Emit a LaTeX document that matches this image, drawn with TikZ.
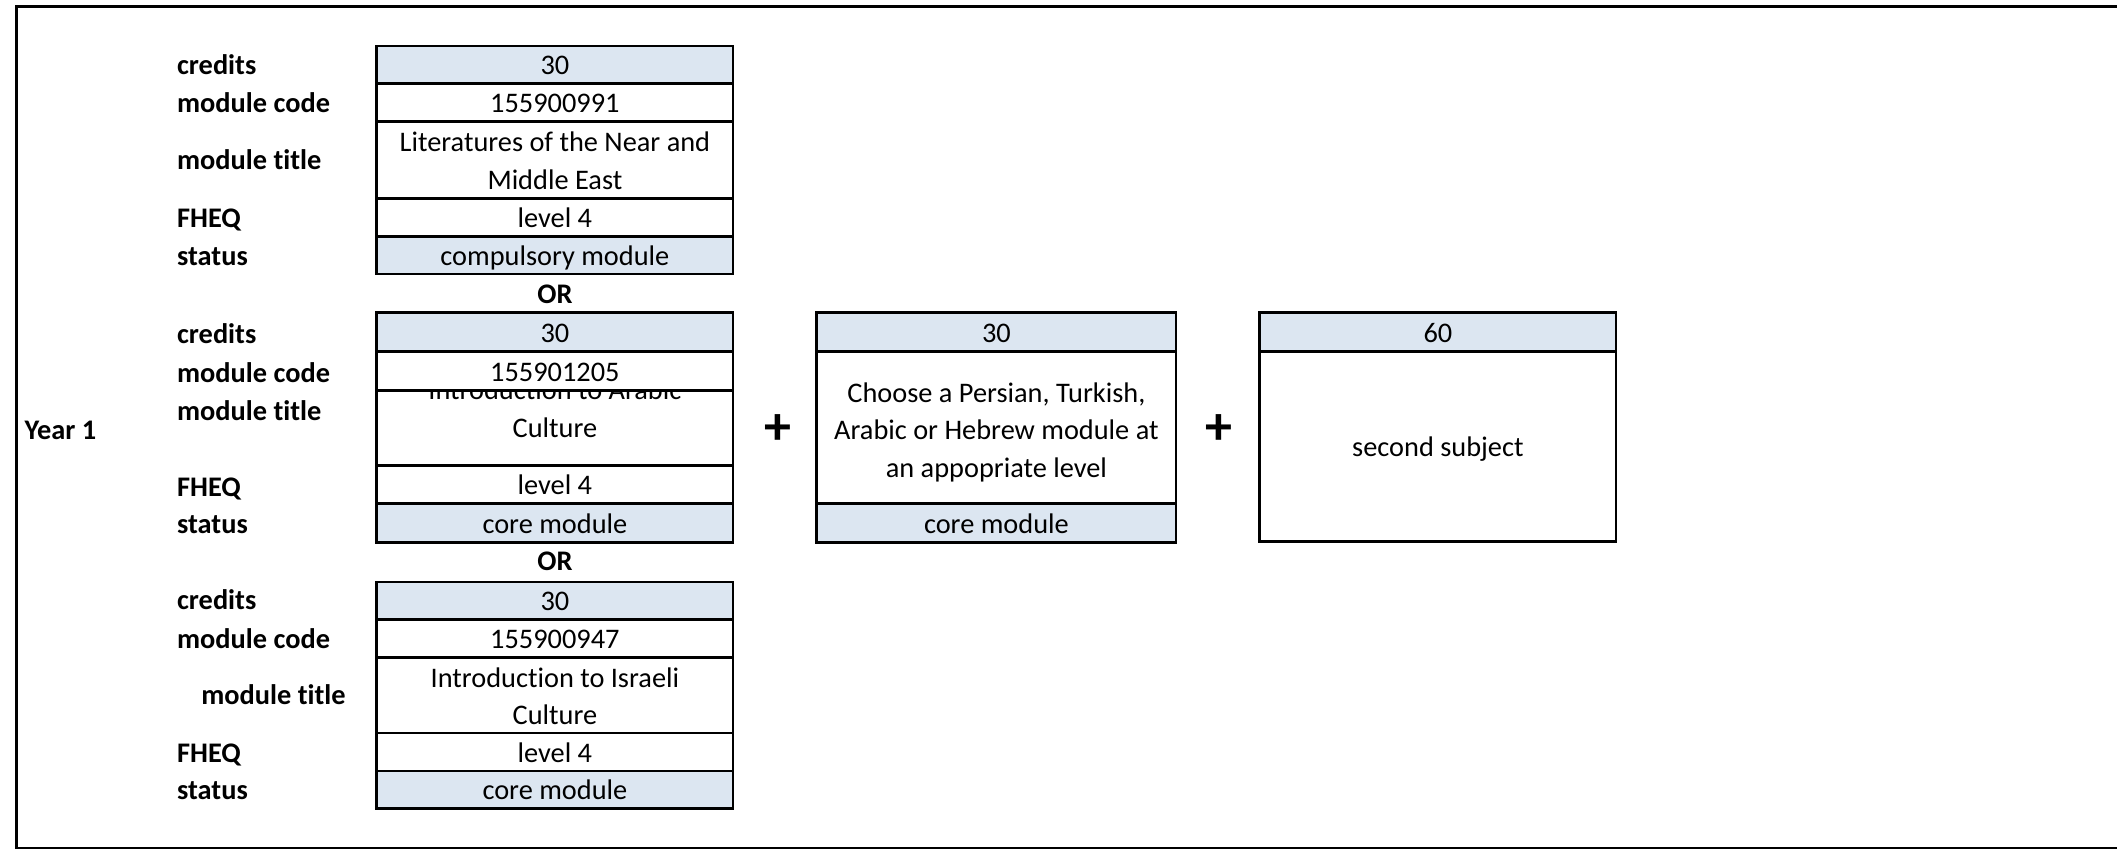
\documentclass[tikz,border=0pt]{standalone}
\usepackage{fontspec}
\setmainfont[Ligatures=NoCommon]{Carlito}
\definecolor{cellblue}{HTML}{DCE6F1}
\newcommand\topgap{\rule{0pt}{16pt}}
\tikzset{
  cell/.style={draw, line width=2pt, minimum width=264pt, inner sep=0pt, outer sep=0pt,
    align=center, font=\fontsize{21}{28}\selectfont},
  oneline/.style={text height=15pt, text depth=0pt},
  head/.style={cell, oneline, fill=cellblue},
  lab/.style={anchor=west, inner sep=0pt, text height=15pt, text depth=0pt,
    font=\fontsize{21}{28}\selectfont\bfseries},
  orlab/.style={inner sep=0pt, text height=15pt, text depth=0pt,
    font=\fontsize{21}{28}\selectfont\bfseries},
  plus/.style={inner sep=0pt, font=\fontsize{40}{40}\selectfont\bfseries},
}
\begin{document}
\begin{tikzpicture}[x=1pt,y=-1pt]
\useasboundingbox (0,0) rectangle (1568,629);
\draw[line width=2pt] (1568,5) -- (12,5) -- (12,628) -- (1568,628);
\node[lab] (year) at (18,318) {Year 1};
% first option
\foreach \y/\t in {48/credits, 76/module code, 118/module title, 161/FHEQ, 189/status}
\node[lab] (la\y) at (131,\y) {\t};
\node[head, minimum height=28pt] (cr1) at (411,48) {30};
\node[cell, oneline, minimum height=28pt] (code1) at (411,76) {155900991};
\node[cell, minimum height=57pt] (title1) at (411,118.5) {\topgap Literatures of the Near and\\Middle East};
\node[cell, oneline, minimum height=28pt] (fheq1) at (411,161) {level 4};
\node[head, minimum height=28pt] (stat1) at (411,189) {compulsory module};
\node[orlab] (or1) at (411,217) {OR};
% second option
\foreach \y/\t in {247/credits, 276/module code, 304/module title, 360/FHEQ, 388/status}
\node[lab] (lb\y) at (131,\y) {\t};
\node[head, minimum height=29pt] (cr2) at (411,246) {30};
\node[cell, minimum height=56pt] (title2) at (411,317) {};
\node[inner sep=0pt, anchor=south, align=center, font=\fontsize{21}{28}\selectfont]
  (title2txt) at (411,324.5) {Introduction to Arabic\\Culture};
\node[cell, oneline, fill=white, minimum height=28.5pt] (code2) at (411,274.75) {155901205};
\node[cell, oneline, minimum height=28pt] (fheq2) at (411,359) {level 4};
\node[head, minimum height=29pt] (stat2) at (411,387.5) {core module};
\node[orlab] (or2) at (411,415) {OR};
% third option
\foreach \y/\t in {444/credits, 473/module code, 557/FHEQ, 585/status}
\node[lab] (lc\y) at (131,\y) {\t};
\node[lab] (lc514) at (149,514) {module title};
\node[head, minimum height=28pt] (cr3) at (411,445) {30};
\node[cell, oneline, minimum height=28pt] (code3) at (411,473) {155900947};
\node[cell, minimum height=56pt] (title3) at (411,515) {\topgap Introduction to Israeli\\Culture};
\node[cell, oneline, minimum height=28pt] (fheq3) at (411,557) {level 4};
\node[head, minimum height=28pt] (stat3) at (411,585) {core module};
% language module
\node[plus] (plus1) at (576,318) {+};
\node[head, minimum width=266pt, minimum height=29pt] (cr4) at (738,246) {30};
\node[cell, minimum width=266pt, minimum height=113pt] (body4) at (738,316.5)
  {\rule{0pt}{22pt}Choose a Persian, Turkish,\\Arabic or Hebrew module at\\an appopriate level};
\node[head, minimum width=266pt, minimum height=29pt] (stat4) at (738,387.5) {core module};
% second subject
\node[plus] (plus2) at (903,318) {+};
\node[head, minimum height=29pt] (cr5) at (1065,246) {60};
\node[cell, oneline, minimum height=141pt] (body5) at (1065,330.5) {second subject};
\end{tikzpicture}
\end{document}
